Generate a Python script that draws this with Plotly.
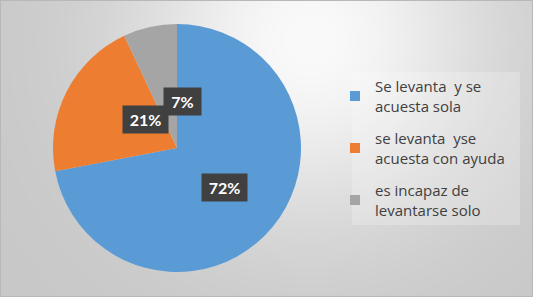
import math, zlib, struct, base64
import numpy as np
import plotly.graph_objects as go

# ---- data ----
labels = ["Se levanta\u00a0 y se<br>acuesta sola",
          "se levanta\u00a0 yse<br>acuesta con ayuda",
          "es incapaz de<br>levantarse solo"]
values = [72, 21, 7]
colors = ["#5B9BD5", "#ED7D31", "#A5A5A5"]

W, H = 533, 297
# pie geometry (pixels)
cx_px, cy_px, R_px = 177, 148, 124


# ---- soft radial background (decoration) as an inline PNG ----
def background_png(w, h):
    yy, xx = np.mgrid[0:h, 0:w].astype(float)
    d = np.hypot(xx - 310, yy - 40)
    g = 200 + 50 * np.exp(-(d / 180.0) ** 2)
    g = np.clip(g, 0, 255).astype(np.uint8)
    raw = b"".join(b"\x00" + g[r].tobytes() for r in range(h))

    def chunk(t, data):
        c = struct.pack(">I", len(data)) + t + data
        return c + struct.pack(">I", zlib.crc32(t + data) & 0xFFFFFFFF)

    png = b"\x89PNG\r\n\x1a\n"
    png += chunk(b"IHDR", struct.pack(">IIBBBBB", w, h, 8, 0, 0, 0, 0))
    png += chunk(b"IDAT", zlib.compress(raw, 9))
    png += chunk(b"IEND", b"")
    return "data:image/png;base64," + base64.b64encode(png).decode()


fig = go.Figure()

fig.add_trace(go.Pie(
    labels=labels, values=values, sort=False, direction="clockwise", rotation=0,
    marker=dict(colors=colors, line=dict(width=0)),
    textinfo="none", showlegend=False, hoverinfo="label+percent",
    domain=dict(x=[(cx_px - R_px) / W, (cx_px + R_px) / W],
                y=[(H - cy_px - R_px) / H, (H - cy_px + R_px) / H])))

# legend entries
for lab, col in zip(labels, colors):
    fig.add_trace(go.Scatter(x=[None], y=[None], mode="markers", name=lab,
                             legendgroup=lab,
                             marker=dict(symbol="square", size=10, color=col)))

# percentage labels placed at half radius along each slice's mid angle
total = sum(values)
cum = 0
annotations = []
for v in values:
    mid = (cum + v / 2) / total * 2 * math.pi
    cum += v
    px = cx_px + 0.5 * R_px * math.sin(mid)
    py = cy_px - 0.5 * R_px * math.cos(mid)
    pct = f"{round(v / total * 100)}%"
    w = 35 if len(pct) == 2 else 43
    annotations.append(dict(x=px / W, y=1 - py / H, xref="paper", yref="paper",
                            text=f"<b>{pct}</b>", showarrow=False, width=w, height=25,
                            bgcolor="#404040",
                            font=dict(color="white", size=16, family="Lato")))

fig.update_layout(
    width=W, height=H, margin=dict(l=0, r=0, t=0, b=0),
    paper_bgcolor="#d4d4d4", plot_bgcolor="rgba(0,0,0,0)",
    xaxis=dict(visible=False, fixedrange=True),
    yaxis=dict(visible=False, fixedrange=True),
    annotations=annotations,
    images=[dict(source=background_png(W, H), xref="paper", yref="paper",
                 x=0, y=1, sizex=1, sizey=1, xanchor="left", yanchor="top",
                 sizing="stretch", layer="below")],
    legend=dict(x=335 / W, y=1 - 70 / H, xanchor="left", yanchor="top",
                bgcolor="rgba(0,0,0,0)",
                font=dict(family="Open Sans", size=15, color="#404040"),
                tracegroupgap=10, traceorder="grouped"),
    shapes=[
        dict(type="rect", xref="paper", yref="paper",
             x0=352 / W, x1=520 / W, y0=1 - 225 / H, y1=1 - 72 / H,
             fillcolor="rgba(255,255,255,0.22)", line=dict(width=0), layer="above"),
        dict(type="rect", xref="paper", yref="paper", x0=0, x1=1, y0=0, y1=1,
             line=dict(color="#b8b8b8", width=2), layer="above"),
    ],
)

fig.write_html("out.html")
